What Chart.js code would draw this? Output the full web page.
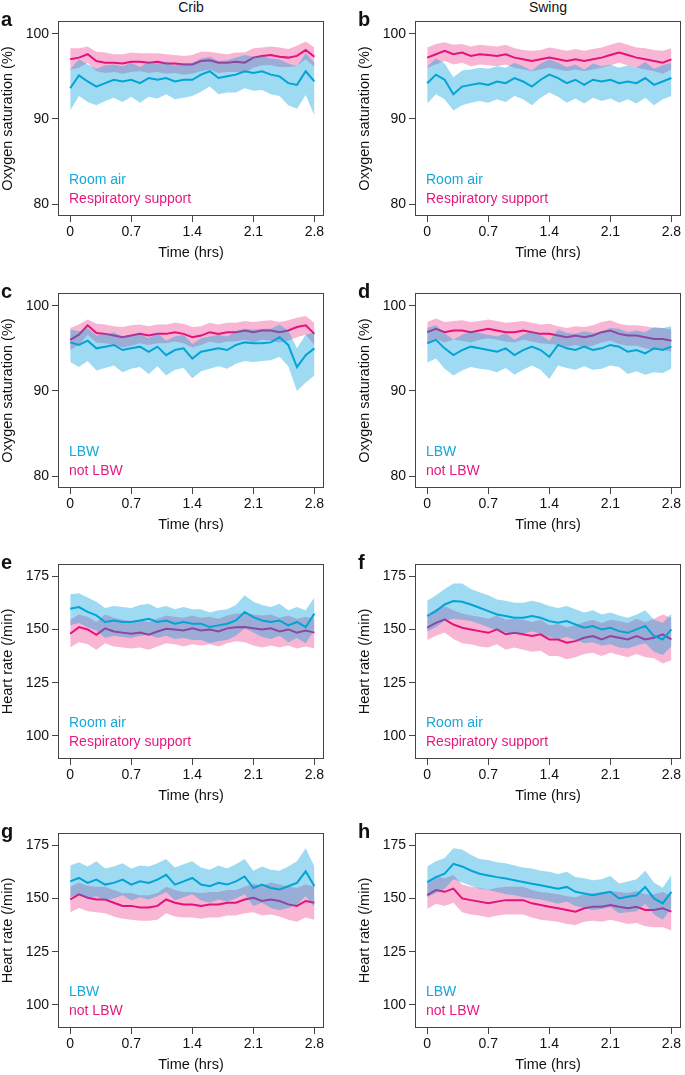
<!DOCTYPE html>
<html>
<head>
<meta charset="utf-8">
<script src="https://cdn.jsdelivr.net/npm/chart.js@4.4.1/dist/chart.umd.min.js"></script>
<style>
  body { margin: 0; width: 685px; height: 1075px; overflow: hidden; background: #fff; position: relative;
         font-family: 'Liberation Sans', Arial, Helvetica, sans-serif; color: #111; }
  canvas { position: absolute; }
  .lab { position: absolute; font-weight: bold; font-size: 20px; line-height: 20px; }
  .col { position: absolute; width: 266px; text-align: center; font-size: 14px; line-height: 14px; top: 0; }
</style>
</head>
<body>
<script>
'use strict';

/* 1. DATOS: tiempo (h), ticks y leyendas */
const TIME = [0, 0.1, 0.2, 0.3, 0.4, 0.5, 0.6, 0.7, 0.8, 0.9, 1.0, 1.1, 1.2, 1.3, 1.4,
              1.5, 1.6, 1.7, 1.8, 1.9, 2.0, 2.1, 2.2, 2.3, 2.4, 2.5, 2.6, 2.7, 2.8];
const X_TICKS    = [0, 0.7, 1.4, 2.1, 2.8];
const SPO2_TICKS = [80, 90, 100];
const HR_TICKS   = [100, 125, 150, 175];
const COLUMNS    = ['Crib', 'Swing'];
const LEG_SUPPORT = ['Room air', 'Respiratory support'];
const LEG_LBW     = ['LBW', 'not LBW'];

/* a: SpO2, cuna, aire ambiente / soporte respiratorio (media, superior, inferior) */
const aRaM = [93.6, 95.1, 94.4, 93.8, 94.2, 94.6, 94.4, 94.6, 94.2, 94.8, 94.6, 94.8, 94.4, 94.6, 94.6, 95.2, 95.6, 94.8, 95.0, 95.2, 95.6, 95.4, 95.6, 95.2, 95.0, 94.2, 94.0, 95.6, 94.4];
const aRaH = [95.8, 97.0, 96.4, 95.9, 96.3, 96.4, 96.2, 96.6, 96.1, 96.7, 96.5, 96.7, 96.3, 96.5, 96.6, 97.1, 97.3, 96.8, 96.9, 97.2, 97.5, 97.3, 97.4, 97.1, 97.0, 96.5, 96.2, 97.7, 96.6];
const aRaL = [91.0, 92.7, 92.0, 91.6, 92.1, 92.5, 92.0, 92.6, 91.9, 92.6, 92.4, 92.9, 92.3, 92.5, 92.7, 93.2, 93.8, 92.9, 93.1, 93.1, 93.6, 93.3, 93.4, 92.9, 92.7, 91.6, 91.2, 92.8, 90.4];
const aRsM = [97.0, 97.2, 97.6, 96.8, 96.6, 96.6, 96.5, 96.7, 96.7, 96.6, 96.7, 96.5, 96.5, 96.4, 96.4, 96.8, 96.9, 96.6, 96.6, 96.7, 96.6, 97.2, 97.4, 97.5, 97.3, 97.2, 97.4, 98.1, 97.3];
const aRsH = [98.3, 98.3, 98.5, 97.9, 97.8, 97.6, 97.6, 97.8, 97.7, 97.7, 97.7, 97.6, 97.5, 97.4, 97.5, 97.9, 97.9, 97.7, 97.6, 97.8, 97.8, 98.3, 98.4, 98.5, 98.4, 98.2, 98.6, 99.1, 98.4];
const aRsL = [95.8, 96.0, 96.6, 95.6, 95.4, 95.5, 95.3, 95.5, 95.6, 95.4, 95.5, 95.3, 95.4, 95.2, 95.3, 95.6, 95.8, 95.4, 95.5, 95.5, 95.4, 96.0, 96.3, 96.3, 96.1, 96.1, 96.2, 97.0, 96.1];

/* b: SpO2, columpio */
const bRaM = [94.2, 95.2, 94.6, 92.9, 93.8, 94.0, 94.2, 94.0, 94.4, 94.2, 94.8, 94.4, 93.8, 94.6, 95.2, 94.8, 94.2, 94.6, 94.0, 94.6, 94.4, 94.6, 94.2, 94.4, 94.2, 94.8, 94.0, 94.4, 94.8];
const bRaH = [96.2, 97.1, 96.5, 94.9, 95.7, 95.8, 96.0, 95.9, 96.2, 96.0, 96.6, 96.2, 95.7, 96.5, 97.0, 96.6, 96.1, 96.4, 95.8, 96.5, 96.2, 96.4, 96.0, 96.3, 96.0, 96.7, 95.9, 96.3, 96.6];
const bRaL = [91.8, 92.9, 92.3, 91.0, 91.6, 91.9, 92.1, 91.9, 92.3, 92.0, 92.7, 92.3, 91.6, 92.5, 93.1, 92.6, 91.9, 92.4, 91.8, 92.5, 92.1, 92.4, 91.9, 92.3, 91.8, 92.5, 91.6, 92.3, 92.7];
const bRsM = [97.2, 97.6, 98.0, 97.6, 97.8, 97.4, 97.6, 97.5, 97.4, 97.6, 97.2, 97.0, 96.8, 97.0, 97.2, 97.0, 96.8, 97.0, 96.8, 97.0, 97.2, 97.5, 97.8, 97.5, 97.2, 97.0, 96.8, 96.6, 97.0];
const bRsH = [98.4, 98.8, 99.0, 98.7, 98.8, 98.5, 98.7, 98.6, 98.5, 98.7, 98.3, 98.1, 98.0, 98.1, 98.4, 98.2, 98.0, 98.2, 98.0, 98.2, 98.4, 98.7, 99.0, 98.7, 98.4, 98.3, 98.1, 98.0, 98.3];
const bRsL = [96.0, 96.4, 96.8, 96.4, 96.6, 96.2, 96.4, 96.3, 96.2, 96.4, 96.0, 95.8, 95.6, 95.8, 96.0, 95.8, 95.6, 95.8, 95.6, 95.8, 96.0, 96.3, 96.6, 96.3, 96.0, 95.8, 95.6, 95.3, 95.8];

/* c: SpO2, cuna, LBW / not LBW */
const cLbM = [95.7, 95.4, 95.9, 95.0, 95.2, 95.4, 94.8, 95.0, 95.2, 94.6, 95.2, 94.2, 94.8, 95.0, 93.8, 94.6, 94.8, 95.0, 94.8, 95.4, 95.7, 95.6, 95.6, 95.7, 96.3, 95.4, 92.8, 94.2, 95.0];
const cLbH = [97.2, 97.0, 97.4, 96.5, 96.7, 96.9, 96.4, 96.6, 96.7, 96.2, 96.8, 95.9, 96.4, 96.6, 95.5, 96.2, 96.4, 96.6, 96.4, 97.0, 97.3, 97.2, 97.3, 97.3, 97.8, 97.1, 95.0, 96.6, 96.9];
const cLbL = [93.4, 92.8, 93.5, 92.4, 92.7, 93.0, 92.2, 92.6, 92.8, 92.0, 92.9, 91.8, 92.5, 92.7, 91.5, 92.3, 92.6, 92.9, 92.6, 93.2, 93.5, 93.4, 93.5, 93.6, 94.0, 92.9, 90.0, 91.0, 91.8];
const cNlM = [96.0, 96.6, 97.7, 96.8, 96.7, 96.5, 96.3, 96.5, 96.7, 96.5, 96.7, 96.7, 96.9, 96.7, 96.3, 96.5, 96.9, 96.7, 96.9, 96.9, 97.1, 96.9, 97.1, 97.1, 96.9, 97.1, 97.5, 97.7, 96.7];
const cNlH = [97.4, 97.8, 98.4, 97.9, 97.8, 97.6, 97.5, 97.7, 97.8, 97.6, 97.8, 97.8, 98.0, 97.9, 97.5, 97.6, 98.0, 97.8, 98.0, 98.0, 98.2, 98.1, 98.2, 98.3, 98.1, 98.3, 98.6, 98.8, 98.0];
const cNlL = [94.8, 95.4, 96.6, 95.7, 95.6, 95.4, 95.1, 95.3, 95.6, 95.4, 95.6, 95.6, 95.8, 95.6, 95.1, 95.4, 95.8, 95.6, 95.8, 95.8, 96.0, 95.7, 96.0, 95.9, 95.7, 95.9, 96.3, 96.6, 95.4];

/* d: SpO2, columpio, LBW / not LBW */
const dLbM = [95.6, 96.0, 95.0, 94.2, 94.8, 95.2, 95.0, 94.8, 94.6, 95.0, 94.2, 94.8, 95.2, 94.8, 94.0, 95.4, 95.0, 94.8, 95.2, 94.8, 95.0, 95.4, 95.2, 94.6, 94.8, 94.4, 95.0, 94.8, 95.2];
const dLbH = [97.4, 97.7, 96.8, 96.0, 96.6, 97.0, 96.8, 96.6, 96.4, 96.8, 96.0, 96.6, 97.0, 96.6, 95.9, 97.2, 96.8, 96.7, 97.0, 96.8, 97.0, 97.4, 97.3, 96.9, 97.1, 96.9, 97.5, 97.4, 97.6];
const dLbL = [93.3, 93.8, 92.6, 91.8, 92.4, 92.8, 92.6, 92.5, 92.2, 92.7, 91.9, 92.5, 93.0, 92.5, 91.4, 93.0, 92.7, 92.5, 92.9, 92.5, 92.6, 93.0, 92.8, 92.0, 92.3, 91.9, 92.2, 92.1, 92.6];
const dNlM = [96.9, 97.3, 96.9, 97.1, 97.1, 96.9, 97.1, 97.3, 97.1, 96.9, 96.9, 97.1, 96.9, 96.7, 96.7, 96.5, 96.3, 96.5, 96.3, 96.5, 96.9, 97.1, 96.7, 96.5, 96.5, 96.3, 96.1, 96.1, 95.9];
const dNlH = [98.1, 98.5, 98.1, 98.2, 98.3, 98.1, 98.2, 98.4, 98.2, 98.0, 98.1, 98.2, 98.0, 97.8, 97.9, 97.6, 97.4, 97.6, 97.5, 97.7, 98.1, 98.3, 97.9, 97.7, 97.7, 97.6, 97.4, 97.4, 97.2];
const dNlL = [95.7, 96.1, 95.7, 96.0, 95.9, 95.7, 96.0, 96.2, 96.0, 95.8, 95.7, 96.0, 95.8, 95.6, 95.5, 95.4, 95.2, 95.4, 95.1, 95.3, 95.7, 95.9, 95.5, 95.3, 95.3, 95.0, 94.8, 94.8, 94.6];

/* e: FC, cuna, aire ambiente / soporte respiratorio */
const eRaM = [159.7, 160.5, 158.2, 156.6, 153.5, 154.2, 153.5, 153.5, 154.2, 155.0, 153.5, 154.2, 152.7, 153.5, 152.7, 152.7, 151.1, 151.9, 152.7, 154.2, 158.2, 155.8, 154.2, 153.5, 154.2, 151.9, 153.5, 151.1, 157.4];
const eRaH = [166.5, 167.0, 165.0, 163.0, 160.0, 161.0, 160.5, 160.0, 161.5, 162.0, 160.0, 161.0, 159.5, 160.5, 159.5, 159.5, 158.0, 159.0, 159.5, 161.5, 166.0, 163.0, 161.5, 160.5, 162.0, 159.0, 160.5, 159.0, 165.0];
const eRaL = [152.0, 153.0, 151.0, 149.5, 146.0, 147.0, 146.5, 146.0, 147.0, 147.5, 146.0, 147.0, 145.5, 146.0, 145.0, 145.0, 143.5, 144.5, 145.0, 147.0, 150.5, 148.5, 146.5, 145.5, 147.0, 144.0, 146.0, 143.5, 149.5];
const eRsM = [148.0, 151.1, 150.0, 147.5, 150.5, 149.0, 148.5, 148.0, 148.5, 147.5, 149.0, 150.3, 150.0, 149.5, 150.5, 149.5, 150.0, 149.0, 150.5, 151.0, 151.1, 150.5, 150.0, 150.5, 149.0, 150.0, 148.5, 149.5, 148.5];
const eRsH = [154.5, 157.0, 156.0, 153.5, 157.0, 155.5, 154.5, 154.0, 154.5, 153.5, 155.0, 156.5, 156.0, 155.5, 156.5, 155.5, 156.0, 155.0, 156.5, 157.5, 157.5, 157.0, 156.5, 157.0, 155.5, 156.5, 155.0, 156.0, 155.0];
const eRsL = [141.5, 144.0, 143.0, 140.5, 143.5, 142.0, 141.5, 141.0, 141.5, 140.5, 142.0, 143.5, 143.0, 142.0, 143.0, 142.5, 143.0, 142.0, 143.5, 144.5, 144.0, 142.5, 141.5, 142.5, 141.5, 142.5, 141.0, 142.0, 141.0];

/* f: FC, columpio */
const fRaM = [156.3, 158.6, 161.7, 163.3, 163.0, 161.7, 160.2, 158.6, 157.0, 156.3, 155.5, 155.5, 156.3, 155.5, 153.9, 153.1, 153.9, 152.3, 150.8, 151.6, 150.0, 150.8, 149.2, 148.4, 150.0, 151.6, 146.9, 145.3, 150.0];
const fRaH = [163.5, 166.0, 169.0, 171.5, 171.5, 169.0, 167.5, 166.0, 164.0, 163.5, 162.5, 162.5, 163.5, 162.5, 161.0, 160.0, 161.0, 159.5, 158.0, 159.0, 157.0, 158.0, 156.5, 155.5, 157.0, 159.0, 154.5, 153.0, 157.5];
const fRaL = [149.0, 151.0, 154.0, 155.0, 154.5, 154.0, 152.5, 151.0, 149.5, 148.5, 148.0, 148.0, 149.0, 148.0, 146.5, 145.5, 146.5, 145.0, 143.5, 144.0, 142.5, 143.0, 141.5, 141.0, 142.5, 143.5, 139.5, 138.0, 142.0];
const fRsM = [150.8, 153.1, 154.7, 152.3, 150.8, 150.0, 149.2, 148.4, 150.0, 147.7, 148.4, 147.7, 146.9, 147.7, 145.3, 145.3, 143.8, 144.5, 146.1, 146.9, 145.3, 146.9, 146.1, 145.3, 146.9, 145.3, 146.1, 147.7, 145.3];
const fRsH = [157.0, 159.5, 161.0, 159.0, 157.5, 156.5, 156.0, 155.0, 156.5, 154.5, 155.0, 154.5, 153.5, 154.5, 152.0, 152.5, 151.0, 152.0, 153.5, 154.5, 153.0, 154.5, 154.0, 153.0, 155.0, 153.5, 155.0, 157.0, 155.5];
const fRsL = [145.0, 147.0, 148.5, 145.5, 143.5, 143.0, 142.0, 141.5, 143.0, 140.5, 141.5, 140.5, 139.5, 140.0, 137.5, 137.5, 136.0, 137.0, 138.5, 139.0, 137.5, 139.0, 138.0, 137.0, 138.5, 137.0, 136.5, 134.0, 135.5];

/* g: FC, cuna, LBW / not LBW */
const gLbM = [158.0, 159.6, 157.3, 158.8, 156.5, 157.3, 158.8, 156.5, 158.0, 157.3, 158.8, 161.1, 156.5, 158.0, 159.6, 156.5, 155.7, 157.3, 156.5, 158.0, 160.3, 154.9, 156.5, 154.9, 154.2, 155.7, 157.3, 162.7, 155.7];
const gLbH = [165.5, 167.0, 165.0, 167.5, 164.0, 165.0, 166.5, 164.0, 165.5, 165.0, 166.5, 168.5, 164.5, 166.0, 167.5, 164.5, 163.5, 165.5, 164.0, 166.0, 168.5, 163.0, 165.0, 163.5, 163.0, 165.0, 167.5, 173.5, 165.0];
const gLbL = [150.5, 152.0, 150.0, 151.0, 149.0, 150.0, 151.5, 149.0, 150.5, 149.5, 151.0, 153.0, 149.0, 150.5, 152.0, 149.0, 148.0, 149.5, 148.5, 150.0, 152.0, 146.5, 148.0, 145.5, 144.5, 145.5, 147.0, 151.0, 146.0];
const gNlM = [149.5, 151.9, 150.3, 149.5, 149.5, 148.0, 146.5, 146.5, 145.7, 145.7, 146.5, 149.5, 148.0, 147.2, 147.2, 146.5, 147.2, 147.2, 148.0, 148.0, 149.5, 150.3, 148.8, 149.5, 148.8, 147.2, 146.5, 148.8, 148.0];
const gNlH = [155.5, 157.5, 156.0, 155.5, 155.5, 154.0, 152.5, 152.5, 151.5, 151.5, 152.5, 155.5, 154.0, 153.0, 153.0, 152.5, 153.0, 153.0, 154.0, 154.0, 155.5, 157.0, 156.0, 157.5, 156.5, 155.5, 155.0, 156.5, 155.5];
const gNlL = [143.5, 145.5, 144.0, 143.5, 143.0, 141.5, 140.5, 140.0, 139.5, 139.5, 140.0, 143.0, 141.5, 141.0, 141.0, 140.5, 141.0, 141.0, 142.0, 142.0, 143.0, 143.5, 142.0, 142.5, 141.5, 140.0, 139.0, 141.0, 140.0];

/* h: FC, columpio, LBW / not LBW */
const hLbM = [157.7, 160.0, 161.6, 166.2, 165.0, 163.1, 161.6, 160.8, 160.0, 159.3, 158.5, 157.7, 156.9, 156.2, 155.4, 154.6, 155.4, 153.1, 152.3, 151.5, 152.3, 153.1, 150.0, 150.8, 151.5, 155.4, 150.0, 147.7, 153.1];
const hLbH = [165.0, 167.5, 169.0, 173.5, 173.0, 170.5, 168.5, 168.0, 167.0, 166.5, 165.5, 164.5, 164.0, 163.0, 162.5, 161.5, 162.5, 160.0, 159.5, 158.5, 159.0, 160.5, 157.0, 158.0, 159.0, 163.0, 157.5, 155.0, 161.0];
const hLbL = [150.5, 152.5, 154.5, 159.0, 157.5, 156.0, 154.5, 154.0, 153.0, 152.0, 151.5, 150.5, 150.0, 149.5, 148.5, 147.5, 148.5, 146.5, 145.5, 144.5, 145.0, 146.0, 143.0, 143.5, 144.0, 147.5, 142.5, 140.0, 145.5];
const hNlM = [151.5, 153.9, 153.1, 154.6, 150.0, 149.2, 148.5, 147.7, 148.5, 149.2, 149.2, 149.2, 147.7, 146.9, 146.1, 145.4, 144.6, 143.8, 145.4, 146.1, 146.1, 146.9, 146.1, 145.4, 146.1, 144.6, 144.6, 145.4, 143.8];
const hNlH = [158.0, 160.5, 159.5, 161.0, 156.5, 155.5, 155.0, 154.0, 155.0, 155.5, 155.5, 155.5, 154.0, 153.0, 152.5, 152.0, 151.0, 150.5, 152.0, 152.5, 153.0, 153.5, 153.0, 152.5, 153.5, 152.0, 152.0, 153.0, 151.5];
const hNlL = [145.0, 147.5, 146.5, 148.0, 143.5, 142.5, 142.0, 141.0, 142.0, 142.5, 142.5, 142.5, 141.0, 140.0, 139.5, 139.0, 138.0, 137.5, 139.0, 139.5, 139.0, 140.0, 139.0, 138.0, 138.5, 137.0, 136.5, 136.5, 135.0];

/* 2. ESTILO */
const BLUE = '#00a4d6', BLUE_BAND = 'rgba(0,160,222,0.38)', BLUE_TXT = '#17a7d9';
const PINK = '#e5117c', PINK_BAND = 'rgba(236,40,130,0.34)', PINK_TXT = '#e6197f';
const AXIS = '#444';
const FONT = "'Liberation Sans', Arial, Helvetica, sans-serif";
Chart.defaults.font.family = FONT;
Chart.defaults.color = '#111';

const SPO2 = { title: 'Oxygen saturation (%)', min: 78.6, max: 101.5, ticks: SPO2_TICKS };
const HR   = { title: 'Heart rate (/min)',     min: 89.2, max: 180.7, ticks: HR_TICKS };

const PANELS = [
  { id: 'a', x: 0,   y: 0,   axis: SPO2, leg: LEG_SUPPORT, blue: [aRaM, aRaH, aRaL], pink: [aRsM, aRsH, aRsL] },
  { id: 'b', x: 357, y: 0,   axis: SPO2, leg: LEG_SUPPORT, blue: [bRaM, bRaH, bRaL], pink: [bRsM, bRsH, bRsL] },
  { id: 'c', x: 0,   y: 272, axis: SPO2, leg: LEG_LBW,     blue: [cLbM, cLbH, cLbL], pink: [cNlM, cNlH, cNlL] },
  { id: 'd', x: 357, y: 272, axis: SPO2, leg: LEG_LBW,     blue: [dLbM, dLbH, dLbL], pink: [dNlM, dNlH, dNlL] },
  { id: 'e', x: 0,   y: 543, axis: HR,   leg: LEG_SUPPORT, blue: [eRaM, eRaH, eRaL], pink: [eRsM, eRsH, eRsL] },
  { id: 'f', x: 357, y: 543, axis: HR,   leg: LEG_SUPPORT, blue: [fRaM, fRaH, fRaL], pink: [fRsM, fRsH, fRsL] },
  { id: 'g', x: 0,   y: 812, axis: HR,   leg: LEG_LBW,     blue: [gLbM, gLbH, gLbL], pink: [gNlM, gNlH, gNlL] },
  { id: 'h', x: 357, y: 812, axis: HR,   leg: LEG_LBW,     blue: [hLbM, hLbH, hLbL], pink: [hNlM, hNlH, hNlL] },
];

/* 3. PLUGIN: marco completo y leyenda dentro del panel */
const frame = {
  id: 'frame',
  afterDraw(chart, args, opts) {
    const { ctx, chartArea: a } = chart;
    ctx.save();
    ctx.strokeStyle = AXIS;
    ctx.lineWidth = 1;
    ctx.strokeRect(a.left + 0.5, a.top + 0.5, a.right - a.left - 1, a.bottom - a.top - 1);
    ctx.font = '14px ' + FONT;
    ctx.textBaseline = 'middle';
    ctx.textAlign = 'left';
    (opts.items || []).forEach((it, i) => {
      ctx.fillStyle = it.color;
      ctx.fillText(it.text, a.left + 11, a.bottom - 36 + i * 19);
    });
    ctx.restore();
  }
};

function pts(arr) {
  return arr.map((v, i) => ({ x: TIME[i], y: v }));
}

function makeSeries(name, [m, h, l], line, band, ord) {
  return [
    { label: name + ' upper', data: pts(h), borderWidth: 0, borderColor: 'transparent', pointRadius: 0, fill: false, order: ord + 1 },
    { label: name + ' lower', data: pts(l), borderWidth: 0, borderColor: 'transparent', pointRadius: 0, fill: '-1', backgroundColor: band, order: ord + 1 },
    { label: name, data: pts(m), borderColor: line, borderWidth: 2, pointRadius: 0, fill: false, tension: 0, order: ord }
  ];
}

/* 4. DIBUJO */
function drawPanel(p) {
  const cv = document.createElement('canvas');
  cv.width = 328; cv.height = 264;
  cv.style.left = p.x + 'px'; cv.style.top = p.y + 'px';
  document.body.appendChild(cv);

  const lab = document.createElement('div');
  lab.className = 'lab';
  lab.textContent = p.id;
  lab.style.left = (p.x + 1) + 'px';
  lab.style.top = (p.y + 9) + 'px';
  document.body.appendChild(lab);

  new Chart(cv, {
    type: 'line',
    data: {
      datasets: [
        ...makeSeries(p.leg[1], p.pink, PINK, PINK_BAND, 3),
        ...makeSeries(p.leg[0], p.blue, BLUE, BLUE_BAND, 1)
      ]
    },
    options: {
      responsive: false,
      animation: false,
      events: [],
      layout: { padding: { left: 0, top: 21, right: 4, bottom: 2 } },
      plugins: {
        legend: { display: false },
        tooltip: { enabled: false },
        frame: { items: [{ text: p.leg[0], color: BLUE_TXT }, { text: p.leg[1], color: PINK_TXT }] }
      },
      scales: {
        x: {
          type: 'linear', min: -0.14, max: 2.91,
          afterBuildTicks: s => { s.ticks = X_TICKS.map(v => ({ value: v })); },
          afterFit: s => { s.height = 46; },
          border: { display: false },
          grid: { drawOnChartArea: false, drawTicks: true, tickLength: 6, color: AXIS, lineWidth: 1 },
          ticks: { padding: 2, font: { size: 14 }, color: '#111', maxRotation: 0,
                   callback: v => v === 0 ? '0' : v.toFixed(1) },
          title: { display: true, text: 'Time (hrs)', font: { size: 14.5 }, color: '#111', padding: 0 }
        },
        y: {
          min: p.axis.min, max: p.axis.max,
          afterBuildTicks: s => { s.ticks = p.axis.ticks.map(v => ({ value: v })); },
          afterFit: s => { s.width = 58; },
          border: { display: false },
          grid: { drawOnChartArea: false, drawTicks: true, tickLength: 6, color: AXIS, lineWidth: 1 },
          ticks: { padding: 3, font: { size: 14 }, color: '#111', callback: v => String(v) },
          title: { display: true, text: p.axis.title, font: { size: 14.5, lineHeight: 1.1 }, color: '#111', padding: 0 }
        }
      }
    },
    plugins: [frame]
  });
}

COLUMNS.forEach((t, i) => {
  const d = document.createElement('div');
  d.className = 'col';
  d.textContent = t;
  d.style.left = (i === 0 ? 58 : 415) + 'px';
  document.body.appendChild(d);
});

PANELS.forEach(drawPanel);
</script>
</body>
</html>
